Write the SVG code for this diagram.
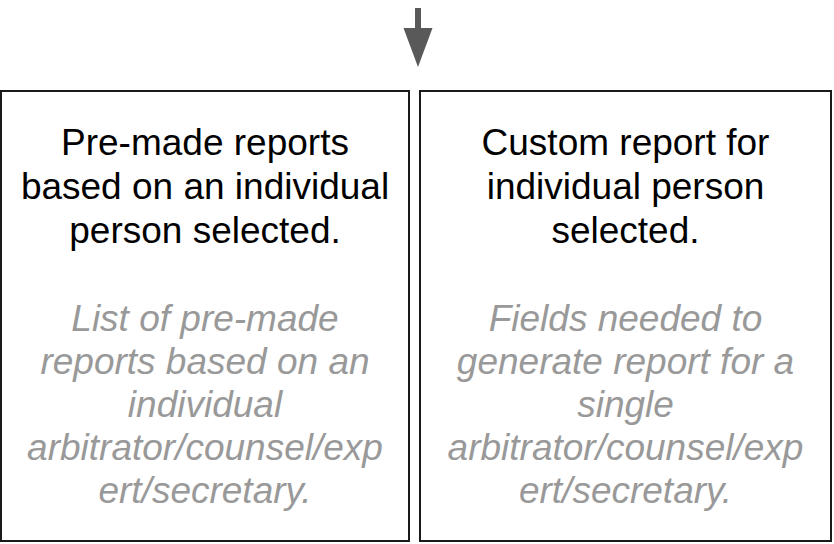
<svg xmlns="http://www.w3.org/2000/svg" width="834" height="544" viewBox="0 0 834 544">
<style>
.box{fill:#fff;stroke:#1a1a1a;stroke-width:2}
.t{font-family:"Liberation Sans",Arial,sans-serif;font-size:37px;text-anchor:middle;fill:#000}
.d{font-family:"Liberation Sans",Arial,sans-serif;font-size:37px;font-style:italic;text-anchor:middle;fill:#999}
</style>
<rect width="834" height="544" fill="#fff"/>
<g id="connectors">
<rect x="415" y="8" width="6" height="21" fill="#595959"/>
<polygon points="403.5,28 432.5,28 418,67" fill="#595959"/>
</g>
<g id="node-premade">
<rect class="box" x="1" y="91" width="408" height="450"/>
<text class="t" x="205" y="155">Pre-made reports</text>
<text class="t" x="205" y="199">based on an individual</text>
<text class="t" x="205" y="243">person selected.</text>
<text class="d" x="205" y="331">List of pre-made</text>
<text class="d" x="205" y="374">reports based on an</text>
<text class="d" x="205" y="417">individual</text>
<text class="d" x="205" y="460">arbitrator/counsel/exp</text>
<text class="d" x="205" y="503">ert/secretary.</text>
</g>
<g id="node-custom">
<rect class="box" x="420" y="91" width="411" height="450"/>
<text class="t" x="625.5" y="155">Custom report for</text>
<text class="t" x="625.5" y="199">individual person</text>
<text class="t" x="625.5" y="243">selected.</text>
<text class="d" x="625.5" y="331">Fields needed to</text>
<text class="d" x="625.5" y="374">generate report for a</text>
<text class="d" x="625.5" y="417">single</text>
<text class="d" x="625.5" y="460">arbitrator/counsel/exp</text>
<text class="d" x="625.5" y="503">ert/secretary.</text>
</g>
</svg>
